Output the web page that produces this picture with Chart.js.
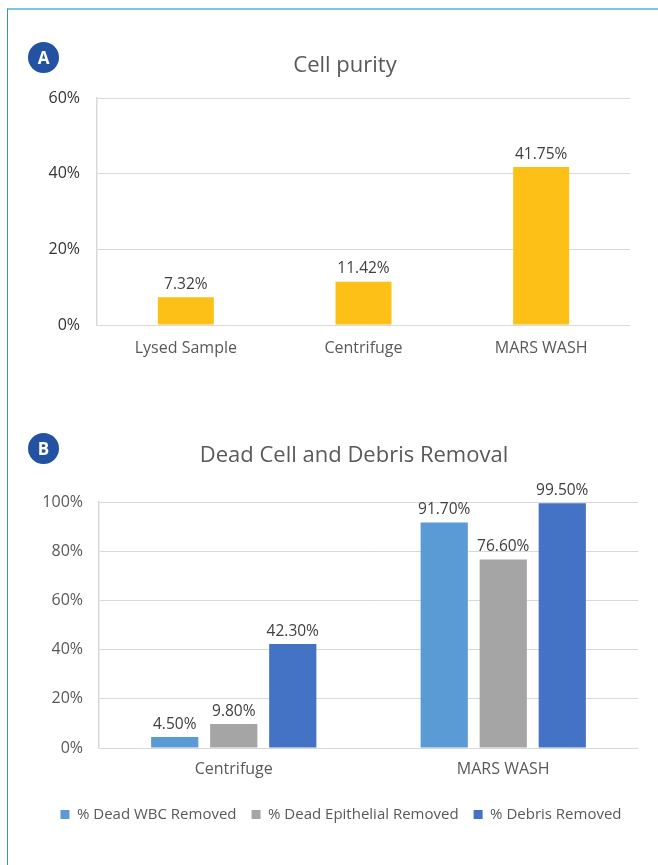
<!DOCTYPE html>
<html>
<head>
<meta charset="utf-8">
<script src="https://cdn.jsdelivr.net/npm/chart.js@4"></script>
<style>
  html, body { margin: 0; padding: 0; background: #fff; }
  body { width: 658px; height: 865px; position: relative; overflow: hidden; font-family: "Open Sans", sans-serif; }
  .frame { position: absolute; left: 7px; top: 8px; width: 660px; height: 870px;
           border-top: 2px solid #7cc3e8; border-left: 1px solid #2a93cb; }
  .badge { position: absolute; width: 31px; height: 31px; border-radius: 50%; background: #2352a3;
           color: #fff; font: bold 17px "Open Sans", sans-serif; line-height: 31px; text-align: center; }
  .title { position: absolute; width: 500px; text-align: center; color: #595959;
           font: 22px "Open Sans", sans-serif; line-height: 30px; }
  .box { position: absolute; left: 0; width: 658px; }
</style>
</head>
<body>
<div class="frame"></div>
<div class="box" style="top:0; height:364px;"><canvas id="purityChart"></canvas></div>
<div class="box" style="top:392px; height:440px;"><canvas id="removalChart"></canvas></div>
<div class="badge" style="left:28px; top:42px;">A</div>
<div class="badge" style="left:28px; top:433px;">B</div>
<div class="title" style="left:95px; top:48px;">Cell purity</div>
<div class="title" style="left:104px; top:438px;">Dead Cell and Debris Removal</div>

<script>
// === Data =====================================================================
const purityCategories = ["Lysed Sample", "Centrifuge", "MARS WASH"];
const purityValues = [7.32, 11.42, 41.75];
const purityTicks = [0, 20, 40, 60];

const removalCategories = ["Centrifuge", "MARS WASH"];
const removalSeries = ["% Dead WBC Removed", "% Dead Epithelial Removed", "% Debris Removed"];
const deadWbcRemoved = [4.5, 91.7];
const deadEpithelialRemoved = [9.8, 76.6];
const debrisRemoved = [42.3, 99.5];
const removalTicks = [0, 20, 40, 60, 80, 100];

const FONT = "'Open Sans', sans-serif";
const GRID = "#d9d9d9";

// === Value labels above bars ================================================
const barLabels = {
  id: "barLabels",
  afterDatasetsDraw(chart) {
    const ctx = chart.ctx;
    ctx.save();
    ctx.font = "15.5px " + FONT;
    ctx.fillStyle = "#404040";
    ctx.textAlign = "center";
    ctx.textBaseline = "bottom";
    chart.data.datasets.forEach((ds, i) => {
      chart.getDatasetMeta(i).data.forEach((bar, j) => {
        ctx.fillText(ds.data[j].toFixed(2) + "%", bar.x, bar.y - 5);
      });
    });
    ctx.restore();
  },
};

function yScale(ticks, width, color, pad) {
  return {
    min: ticks[0],
    max: ticks[ticks.length - 1],
    afterFit: (s) => { s.width = width; },
    afterBuildTicks: (s) => { s.ticks = ticks.map(v => ({ value: v })); },
    ticks: { color, padding: pad, font: { size: 16, family: FONT }, callback: v => v + "%" },
    grid: { color: GRID, lineWidth: 1, drawTicks: false },
    border: { display: true, color: GRID, width: 1.5 },
  };
}

function xScale(height, pad) {
  return {
    afterFit: (s) => { s.height = height; },
    ticks: { color: "#595959", padding: pad, font: { size: 16, family: FONT } },
    grid: { display: false, drawTicks: false },
    border: { display: false },
  };
}

// === Chart A: Cell purity ===================================================
new Chart(document.getElementById("purityChart"), {
  type: "bar",
  data: {
    labels: purityCategories,
    datasets: [{
      label: "Cell purity",
      data: purityValues,
      backgroundColor: "#fcc016",
      categoryPercentage: 1,
      barPercentage: 0.315,
    }],
  },
  options: {
    responsive: true,
    maintainAspectRatio: false,
    animation: false,
    layout: { padding: { left: 0, right: 28, top: 98, bottom: 0 } },
    scales: { x: xScale(39, 14), y: yScale(purityTicks, 97, "#333333", 17) },
    plugins: {
      legend: { display: false },
      tooltip: { enabled: false },
    },
  },
  plugins: [barLabels],
});

// === Chart B: Dead Cell and Debris Removal ==================================
const removalColors = ["#5b9bd5", "#a5a5a5", "#4472c4"];
const removalData = [deadWbcRemoved, deadEpithelialRemoved, debrisRemoved];

new Chart(document.getElementById("removalChart"), {
  type: "bar",
  data: {
    labels: removalCategories,
    datasets: removalSeries.map((name, i) => ({
      label: name,
      data: removalData[i],
      backgroundColor: removalColors[i],
      categoryPercentage: 0.657,
      barPercentage: 0.8,
    })),
  },
  options: {
    responsive: true,
    maintainAspectRatio: false,
    animation: false,
    // left padding pushes the legend centre right; axis width keeps plot at x=99
    layout: { padding: { left: 44, right: 20, top: 110, bottom: 0 } },
    scales: { x: xScale(44, 12), y: yScale(removalTicks, 55, "#595959", 16) },
    plugins: {
      legend: {
        position: "bottom",
        labels: {
          boxWidth: 9, boxHeight: 9, padding: 15, color: "#595959",
          font: { size: 15, family: FONT },
        },
      },
      tooltip: { enabled: false },
    },
  },
  plugins: [barLabels],
});
</script>
</body>
</html>
